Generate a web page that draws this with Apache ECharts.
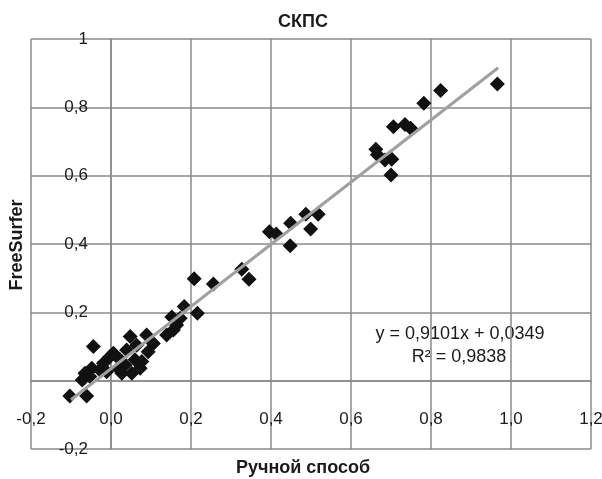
<!DOCTYPE html>
<html>
<head>
<meta charset="utf-8">
<script src="https://cdn.jsdelivr.net/npm/echarts@6/dist/echarts.min.js"></script>
<style>
  html, body { margin: 0; padding: 0; background: #fff; }
  #chart { width: 602px; height: 479px; }
</style>
</head>
<body>
<div id="chart"></div>
<script>
// Ручной способ (x) vs FreeSurfer (y)
var manualX = [
    0.966, 0.824, 0.782, 0.706, 0.735, 0.749, 0.662, 0.666, 0.685, 0.702, 0.700,
    0.518, 0.487, 0.499, 0.449, 0.396, 0.413, 0.448, 0.327, 0.345, 0.256, 0.208,
    0.183, 0.216, 0.152,
    -0.103, -0.061, -0.072, -0.065, -0.048, -0.044, -0.053, -0.028, -0.019, -0.003,
    0.006, 0.023, 0.018, 0.039, 0.048, 0.052, 0.073, 0.077, 0.060, 0.089, 0.093,
    0.106, 0.139, 0.156, 0.164, 0.173, 0.035, -0.011, 0.027, 0.064
];
var freeSurferY = [
    0.868, 0.849, 0.812, 0.743, 0.750, 0.739, 0.677, 0.661, 0.646, 0.648, 0.602,
    0.487, 0.487, 0.444, 0.461, 0.436, 0.429, 0.395, 0.326, 0.297, 0.283, 0.298,
    0.217, 0.197, 0.186,
    -0.045, -0.045, 0.002, 0.022, 0.036, 0.100, 0.012, 0.031, 0.051, 0.070,
    0.080, 0.061, 0.036, 0.090, 0.129, 0.022, 0.036, 0.056, 0.061, 0.134, 0.085,
    0.109, 0.134, 0.148, 0.163, 0.183, 0.046, 0.026, 0.022, 0.104
];
// линия тренда (концы, как на рисунке)
var trendX = [-0.100, 0.968];
var trendY = [-0.056, 0.916];

var xTicks = { min: -0.2, max: 1.2, step: 0.2 };
var yTicks = { min: -0.2, max: 1, step: 0.2 };

var FONT = '"Liberation Sans", Arial, sans-serif';

var points = [];
for (var i = 0; i < manualX.length; i++) {
    points.push([manualX[i], freeSurferY[i]]);
}
var trend = [];
for (var j = 0; j < trendX.length; j++) {
    trend.push([trendX[j], trendY[j]]);
}

function fmtX(v) {
    return v.toFixed(1).replace('.', ',');
}
function fmtY(v) {
    var r = Math.round(v * 10) / 10;
    if (r === 1) return '1';
    if (r === 0) return '0';
    return r.toFixed(1).replace('.', ',');
}

// grid: 31..591 x 39..449, axes cross at (0,0) -> x=111, y=381
var chart = echarts.init(document.getElementById('chart'));
var option = {
    animation: false,
    backgroundColor: '#fff',
    grid: {
        left: 31,
        right: 11,
        top: 39,
        bottom: 30,
        containLabel: false,
        outerBoundsMode: 'none'
    },
    xAxis: {
        type: 'value',
        min: xTicks.min,
        max: xTicks.max,
        interval: xTicks.step,
        offset: -68,
        axisLine: { onZero: false, lineStyle: { color: '#8a8a8a', width: 1.5 } },
        axisTick: { show: false },
        axisLabel: {
            margin: 30,
            color: '#1a1a1a',
            fontFamily: FONT,
            fontSize: 17,
            formatter: fmtX
        },
        splitLine: { show: true, lineStyle: { color: '#8a8a8a', width: 1.5 } }
    },
    yAxis: {
        type: 'value',
        min: yTicks.min,
        max: yTicks.max,
        interval: yTicks.step,
        offset: -80,
        axisLine: { onZero: false, lineStyle: { color: '#8a8a8a', width: 1.5 } },
        axisTick: { show: false },
        axisLabel: {
            margin: 23,
            color: '#1a1a1a',
            fontFamily: FONT,
            fontSize: 17,
            formatter: fmtY
        },
        splitLine: { show: true, lineStyle: { color: '#8a8a8a', width: 1.5 } }
    },
    series: [
        {
            type: 'scatter',
            symbol: 'diamond',
            symbolSize: 15,
            itemStyle: { color: '#111', opacity: 1 },
            data: points,
            z: 3
        },
        {
            type: 'line',
            data: trend,
            symbol: 'none',
            lineStyle: { color: '#a0a0a0', width: 3 },
            z: 4
        }
    ],
    graphic: [
        {
            type: 'text',
            x: 303, y: 22,
            style: { text: 'СКПС', font: 'bold 18px ' + FONT, fill: '#1a1a1a', textAlign: 'center', textVerticalAlign: 'middle' }
        },
        {
            type: 'text',
            x: 303, y: 468,
            style: { text: 'Ручной способ', font: 'bold 18px ' + FONT, fill: '#1a1a1a', textAlign: 'center', textVerticalAlign: 'middle' }
        },
        {
            type: 'text',
            x: 17, y: 245,
            rotation: Math.PI / 2,
            style: { text: 'FreeSurfer', font: 'bold 18px ' + FONT, fill: '#1a1a1a', textAlign: 'center', textVerticalAlign: 'middle' }
        },
        {
            type: 'text',
            x: 460, y: 334,
            style: { text: 'y = 0,9101x + 0,0349', font: '18px ' + FONT, fill: '#1a1a1a', textAlign: 'center', textVerticalAlign: 'middle' }
        },
        {
            type: 'text',
            x: 459, y: 357,
            style: { text: 'R² = 0,9838', font: '18px ' + FONT, fill: '#1a1a1a', textAlign: 'center', textVerticalAlign: 'middle' }
        }
    ]
};
chart.setOption(option);
</script>
</body>
</html>
